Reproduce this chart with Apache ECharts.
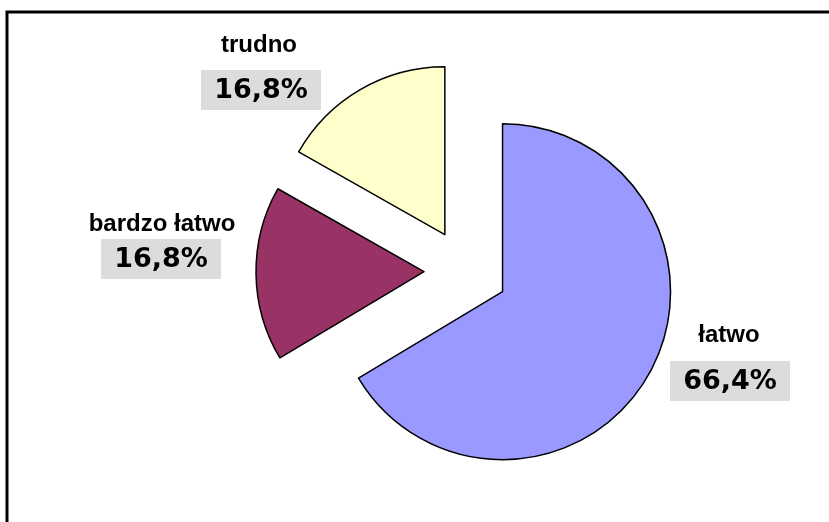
<!DOCTYPE html>
<html>
<head>
<meta charset="utf-8">
<script src="https://cdn.jsdelivr.net/npm/echarts@6/dist/echarts.min.js"></script>
<style>
  html, body { margin: 0; padding: 0; background: #fff; }
  #chart { width: 829px; height: 522px; }
</style>
</head>
<body>
<div id="chart"></div>
<script>
  // dane z wykresu
  const categories = ['łatwo', 'bardzo łatwo', 'trudno'];
  const values = [66.4, 16.8, 16.8];
  const colors = ['#9999FF', '#993366', '#FFFFCC'];

  // położenie etykiet: środek nazwy (x, y) i środek szarego pola z procentem
  const namePos = [[729, 335], [162, 224], [259, 45]];
  const boxPos = [[730, 381], [161, 259], [261, 90]];

  const chart = echarts.init(document.getElementById('chart'));

  const data = categories.map((name, i) => ({
    name: name,
    value: values[i],
    selected: true,
    itemStyle: { color: colors[i] }
  }));

  // etykiety jak w Excelu - nazwa nad szarym polem z wartoscia
  const labels = [];
  categories.forEach((name, i) => {
    labels.push({
      type: 'text',
      x: namePos[i][0],
      y: namePos[i][1],
      style: {
        text: name,
        fill: '#000',
        font: 'bold 24px "Liberation Sans", Arial, sans-serif',
        align: 'center',
        verticalAlign: 'middle'
      }
    });
    labels.push({
      type: 'rect',
      shape: { x: boxPos[i][0] - 60, y: boxPos[i][1] - 20, width: 120, height: 40 },
      style: { fill: '#dcdcdc' }
    });
    labels.push({
      type: 'text',
      x: boxPos[i][0],
      y: boxPos[i][1] + 1,
      style: {
        text: values[i].toFixed(1).replace('.', ',') + '%',
        fill: '#000',
        font: 'bold 27px "DejaVu Sans", Verdana, sans-serif',
        align: 'center',
        verticalAlign: 'middle'
      }
    });
  });

  chart.setOption({
    animation: false,
    backgroundColor: '#fff',
    graphic: [{
      type: 'rect',
      shape: { x: 7, y: 12, width: 840, height: 540 },
      style: { fill: 'none', stroke: '#000', lineWidth: 3 }
    }].concat(labels),
    series: [{
      type: 'pie',
      center: [466, 271],
      radius: 168,
      startAngle: 90,
      clockwise: true,
      selectedMode: 'multiple',
      selectedOffset: 42,
      avoidLabelOverlap: false,
      itemStyle: { borderColor: '#000', borderWidth: 1.5 },
      emphasis: { scale: false },
      label: { show: false },
      labelLine: { show: false },
      data: data
    }]
  });
</script>
</body>
</html>
